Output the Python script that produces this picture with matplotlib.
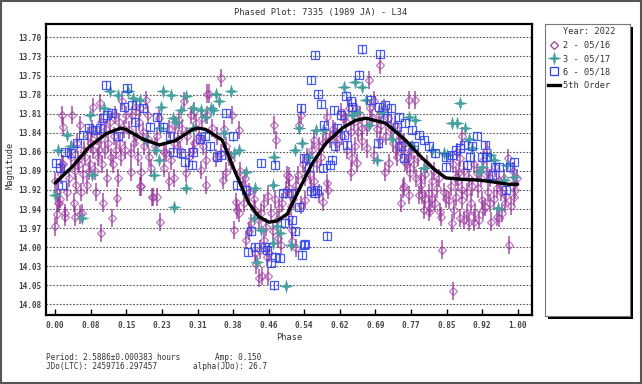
import matplotlib
matplotlib.use("Agg")
import matplotlib.pyplot as plt
import numpy as np
from matplotlib.lines import Line2D
from matplotlib.patches import Rectangle
from matplotlib.path import Path

plt.rcParams['font.family'] = ['DejaVu Sans Mono']

# session 2 - 05/16 (purple diamonds)
s2_phase = [0.000, 0.003, 0.000, 0.003, 0.006, 0.008, 0.010, 0.012, 0.014, 0.015, 0.017, 0.017, 0.021, 0.022,
            0.025, 0.030, 0.033, 0.035, 0.036, 0.040, 0.042, 0.043, 0.045, 0.048, 0.050, 0.052, 0.053, 0.053,
            0.055, 0.058, 0.060, 0.062, 0.065, 0.068, 0.070, 0.072, 0.075, 0.078, 0.080, 0.082, 0.082, 0.085,
            0.088, 0.090, 0.093, 0.095, 0.097, 0.098, 0.100, 0.100, 0.102, 0.104, 0.107, 0.110, 0.112, 0.115,
            0.118, 0.120, 0.122, 0.125, 0.128, 0.130, 0.132, 0.133, 0.135, 0.138, 0.140, 0.143, 0.145, 0.148,
            0.150, 0.152,
            0.160, 0.163, 0.163, 0.174, 0.174, 0.181, 0.183, 0.185, 0.185, 0.192, 0.196, 0.203, 0.207, 0.210,
            0.212, 0.221, 0.226, 0.235, 0.235, 0.246, 0.257, 0.257, 0.268, 0.279, 0.282, 0.293, 0.297, 0.304,
            0.315, 0.326, 0.326, 0.329, 0.170, 0.178, 0.190, 0.200, 0.215, 0.220, 0.240, 0.250, 0.265, 0.270,
            0.285, 0.290, 0.300, 0.310, 0.320, 0.200, 0.225, 0.245, 0.260, 0.275, 0.300, 0.318, 0.167, 0.183,
            0.333, 0.329, 0.340, 0.347, 0.358, 0.358, 0.362, 0.369, 0.383, 0.387, 0.390, 0.392, 0.397, 0.397,
            0.408, 0.413, 0.418, 0.423, 0.432, 0.433, 0.435, 0.441, 0.442, 0.447, 0.451, 0.451, 0.457, 0.460,
            0.462, 0.466, 0.473, 0.477, 0.482, 0.484, 0.489, 0.498, 0.502, 0.350, 0.370, 0.375, 0.400, 0.405,
            0.420, 0.430, 0.440, 0.455, 0.470, 0.480, 0.490, 0.445, 0.460, 0.475, 0.365, 0.380, 0.410,
            0.505, 0.505, 0.505, 0.513, 0.513, 0.520, 0.524, 0.527, 0.531, 0.531, 0.541, 0.541, 0.552, 0.560,
            0.570, 0.570, 0.579, 0.585, 0.588, 0.588, 0.590, 0.606, 0.617, 0.628, 0.639, 0.639, 0.642, 0.649,
            0.653, 0.664, 0.664, 0.515, 0.535, 0.545, 0.555, 0.565, 0.575, 0.580, 0.595, 0.600, 0.610, 0.620,
            0.625, 0.630, 0.635, 0.645, 0.650, 0.655, 0.660, 0.550, 0.560, 0.520, 0.510,
            0.674, 0.674, 0.678, 0.689, 0.703, 0.703, 0.714, 0.721, 0.736, 0.743, 0.748, 0.752, 0.754, 0.757,
            0.766, 0.766, 0.768, 0.777, 0.787, 0.790, 0.794, 0.797, 0.808, 0.809, 0.811, 0.822, 0.833, 0.834,
            0.837, 0.680, 0.685, 0.690, 0.695, 0.700, 0.705, 0.710, 0.715, 0.720, 0.725, 0.730, 0.735, 0.740,
            0.745, 0.750, 0.755, 0.760, 0.765, 0.770, 0.775, 0.780, 0.785, 0.790, 0.800, 0.805, 0.815, 0.820,
            0.825, 0.830, 0.840, 0.845, 0.800, 0.815,
            0.851, 0.855, 0.858, 0.860, 0.866, 0.866, 0.869, 0.873, 0.876, 0.876, 0.880, 0.880, 0.880, 0.885,
            0.891, 0.894, 0.901, 0.905, 0.908, 0.912, 0.923, 0.924, 0.930, 0.934, 0.934, 0.941, 0.943, 0.955,
            0.955, 0.959, 0.960, 0.966, 0.973, 0.980, 0.982, 0.991, 0.991, 0.995, 0.860, 0.870, 0.885, 0.890,
            0.895, 0.900, 0.905, 0.915, 0.920, 0.925, 0.935, 0.940, 0.948, 0.950, 0.965, 0.970, 0.975, 0.985,
            0.990, 0.998, 0.862, 0.917]
s2_mag = [13.905, 13.920, 13.969, 13.952, 13.935, 13.935, 13.930, 13.895, 13.810, 13.880, 13.827, 13.880, 13.955, 13.950,
          13.920, 13.900, 13.870, 13.860, 13.810, 13.935, 13.890, 13.955, 13.910, 13.850, 13.875, 13.880, 13.825, 13.952,
          13.920, 13.950, 13.895, 13.860, 13.870, 13.910, 13.840, 13.890, 13.880, 13.850, 13.830, 13.799, 13.860, 13.890,
          13.920, 13.840, 13.870, 13.860, 13.793, 13.820, 13.845, 13.978, 13.880, 13.935, 13.860, 13.830, 13.900, 13.850,
          13.820, 13.870, 13.957, 13.880, 13.840, 13.810, 13.860, 13.928, 13.900, 13.820, 13.850, 13.870, 13.790, 13.830,
          13.860, 13.810,
          13.832, 13.865, 13.891, 13.799, 13.841, 13.820, 13.912, 13.891, 13.912, 13.855, 13.789, 13.870, 13.886, 13.927,
          13.927, 13.927, 13.963, 13.886, 13.863, 13.905, 13.900, 13.851, 13.818, 13.791, 13.893, 13.810, 13.860, 13.822,
          13.889, 13.874, 13.910, 13.780, 13.850, 13.870, 13.835, 13.845, 13.855, 13.840, 13.865, 13.875, 13.845, 13.860,
          13.840, 13.870, 13.850, 13.840, 13.855, 13.810, 13.815, 13.830, 13.825, 13.830, 13.805, 13.815, 13.810, 13.800,
          13.780, 13.810, 13.829, 13.872, 13.758, 13.865, 13.903, 13.891, 13.810, 13.974, 13.934, 13.945, 13.832, 13.950,
          13.936, 13.988, 13.975, 13.964, 14.007, 13.945, 14.023, 14.042, 14.002, 14.040, 13.936, 13.988, 14.012, 14.040,
          14.007, 13.950, 13.825, 13.846, 13.986, 13.943, 13.995, 13.917, 13.896, 13.840, 13.855, 13.870, 13.890, 13.910,
          13.920, 13.930, 13.960, 13.970, 13.975, 13.960, 13.935, 13.950, 13.925, 13.930, 13.830, 13.875, 13.900,
          13.898, 13.915, 13.955, 13.974, 13.990, 14.000, 13.896, 13.825, 13.810, 13.938, 13.898, 13.931, 13.915, 13.846,
          13.855, 13.922, 13.934, 13.841, 13.813, 13.907, 13.917, 13.834, 13.806, 13.820, 13.834, 13.891, 13.872, 13.855,
          13.879, 13.848, 13.829, 13.930, 13.880, 13.870, 13.860, 13.880, 13.870, 13.850, 13.845, 13.830, 13.850, 13.840,
          13.815, 13.860, 13.800, 13.820, 13.800, 13.835, 13.810, 13.895, 13.905, 13.910, 13.940,
          13.827, 13.858, 13.761, 13.867, 13.739, 13.846, 13.891, 13.879, 13.860, 13.846, 13.936, 13.915, 13.912, 13.877,
          13.789, 13.924, 13.893, 13.789, 13.924, 13.898, 13.924, 13.945, 13.922, 13.948, 13.943, 13.936, 13.948, 13.955,
          14.002, 13.800, 13.815, 13.790, 13.830, 13.810, 13.825, 13.800, 13.840, 13.815, 13.830, 13.850, 13.825, 13.870,
          13.840, 13.860, 13.850, 13.880, 13.870, 13.860, 13.880, 13.900, 13.870, 13.910, 13.895, 13.880, 13.905, 13.890,
          13.915, 13.900, 13.920, 13.930, 13.930, 13.930,
          13.931, 13.912, 13.964, 14.061, 13.927, 13.898, 13.863, 13.891, 13.957, 13.872, 13.931, 13.917, 13.841, 13.960,
          13.950, 13.962, 13.912, 13.962, 13.950, 13.893, 13.931, 13.945, 13.941, 13.891, 13.860, 13.936, 13.962, 13.955,
          13.915, 13.903, 13.957, 13.950, 13.936, 13.872, 13.995, 13.927, 13.907, 13.917, 13.880, 13.905, 13.890, 13.920,
          13.900, 13.935, 13.880, 13.915, 13.900, 13.875, 13.920, 13.900, 13.930, 13.885, 13.920, 13.900, 13.925, 13.940,
          13.890, 13.900, 13.945, 13.960]
s2_err = 0.013

# session 3 - 05/17 (teal stars)
s3_phase = [0.000, 0.006, 0.025, 0.035, 0.057, 0.075, 0.079, 0.106, 0.118, 0.136, 0.157, 0.168, 0.183, 0.196,
            0.214, 0.217, 0.225, 0.226, 0.228, 0.233, 0.250, 0.255, 0.257, 0.261, 0.273, 0.282, 0.282, 0.297,
            0.298, 0.315, 0.323, 0.336, 0.341, 0.347, 0.354, 0.365, 0.379, 0.387, 0.397, 0.412, 0.430, 0.433,
            0.437, 0.444, 0.470, 0.470, 0.473, 0.480, 0.487, 0.498, 0.509, 0.518, 0.527, 0.534, 0.549, 0.563,
            0.578, 0.624, 0.642, 0.649, 0.653, 0.664, 0.671, 0.678, 0.696, 0.707, 0.729, 0.766, 0.772, 0.779,
            0.797, 0.815, 0.840, 0.848, 0.858, 0.869, 0.876, 0.886, 0.894, 0.901, 0.916, 0.923, 0.941, 0.948,
            0.957, 0.970, 0.977, 0.991]
s3_mag = [13.924, 13.860, 13.839, 13.855, 13.957, 13.810, 13.896, 13.801, 13.777, 13.782, 13.777, 13.786, 13.789, 13.846,
          13.896, 13.860, 13.874, 13.829, 13.799, 13.777, 13.782, 13.815, 13.941, 13.820, 13.803, 13.784, 13.915, 13.829,
          13.801, 13.803, 13.813, 13.801, 13.803, 13.780, 13.791, 13.836, 13.777, 13.865, 13.860, 13.891, 13.957, 13.915,
          14.019, 13.974, 13.910, 13.993, 13.870, 13.969, 13.979, 14.054, 13.995, 13.860, 13.829, 13.851, 13.870, 13.832,
          13.832, 13.770, 13.810, 13.763, 13.806, 13.770, 13.789, 13.825, 13.874, 13.806, 13.844, 13.813, 13.855, 13.817,
          13.886, 13.860, 13.865, 13.867, 13.822, 13.822, 13.794, 13.829, 13.844, 13.858, 13.891, 13.884, 13.867, 13.874,
          13.943, 13.903, 13.881, 13.898]
s3_err = 0.005

# session 6 - 05/18 (blue squares)
s6_phase = [0.002, 0.010, 0.014, 0.021, 0.035, 0.046, 0.060, 0.073, 0.086, 0.097, 0.104, 0.110, 0.111, 0.122,
            0.136, 0.148, 0.156, 0.165, 0.172, 0.190, 0.205, 0.219, 0.233, 0.248, 0.255, 0.273, 0.280, 0.295,
            0.298, 0.313, 0.323, 0.334, 0.349, 0.359, 0.370, 0.384, 0.392, 0.413, 0.417, 0.424, 0.433, 0.446,
            0.453, 0.457, 0.467, 0.472, 0.475, 0.475, 0.485, 0.492, 0.496, 0.510, 0.513, 0.518, 0.527, 0.532,
            0.534, 0.537, 0.541, 0.538, 0.549, 0.552, 0.554, 0.561, 0.562, 0.567, 0.568, 0.574, 0.578, 0.581,
            0.587, 0.595, 0.599, 0.603, 0.606, 0.610, 0.617, 0.624, 0.628, 0.632, 0.639, 0.642, 0.657, 0.664,
            0.682, 0.698, 0.700, 0.703, 0.714, 0.718, 0.725, 0.739, 0.743, 0.747, 0.754, 0.757, 0.772, 0.775,
            0.786, 0.797, 0.808, 0.822, 0.844, 0.844, 0.858, 0.866, 0.876, 0.883, 0.891, 0.898, 0.901, 0.912,
            0.923, 0.930, 0.934, 0.945, 0.952, 0.959, 0.975, 0.984, 0.991]
s6_mag = [13.879, 13.886, 13.910, 13.863, 13.865, 13.851, 13.839, 13.829, 13.832, 13.829, 13.815, 13.768, 13.810, 13.808,
          13.841, 13.799, 13.772, 13.796, 13.820, 13.801, 13.827, 13.813, 13.827, 13.841, 13.863, 13.865, 13.877, 13.881,
          13.863, 13.844, 13.841, 13.855, 13.870, 13.867, 13.808, 13.841, 13.910, 13.917, 14.005, 13.976, 13.998, 13.879,
          13.998, 14.002, 14.021, 14.053, 13.881, 14.012, 14.014, 13.922, 13.964, 13.922, 13.960, 13.976, 13.941, 13.801,
          14.009, 13.995, 13.994, 13.872, 13.884, 13.919, 13.761, 13.922, 13.725, 13.917, 13.781, 13.795, 13.886, 13.825,
          13.982, 13.881, 13.874, 13.803, 13.855, 13.829, 13.810, 13.839, 13.783, 13.853, 13.791, 13.799, 13.753, 13.717,
          13.789, 13.851, 13.799, 13.724, 13.796, 13.815, 13.801, 13.827, 13.813, 13.855, 13.872, 13.822, 13.832, 13.855,
          13.839, 13.846, 13.855, 13.865, 13.870, 13.884, 13.867, 13.860, 13.858, 13.853, 13.881, 13.870, 13.855, 13.840,
          13.870, 13.853, 13.870, 13.896, 13.884, 13.884, 13.917, 13.884, 13.877]
s6_err = 0.006

# 5th order fit curve
fit_phase = [0.000, 0.037, 0.073, 0.110, 0.142, 0.153, 0.190, 0.225, 0.260, 0.297, 0.310, 0.325, 0.361, 0.390,
             0.419, 0.440, 0.462, 0.480, 0.502, 0.527, 0.556, 0.585, 0.621, 0.650, 0.673, 0.714, 0.757, 0.794,
             0.820, 0.845, 0.880, 0.916, 0.950, 0.980, 1.000]
fit_mag = [13.907, 13.884, 13.856, 13.837, 13.829, 13.831, 13.845, 13.853, 13.847, 13.831, 13.829, 13.831, 13.846, 13.893,
           13.936, 13.955, 13.963, 13.961, 13.951, 13.917, 13.879, 13.851, 13.829, 13.818, 13.815, 13.822, 13.846, 13.872,
           13.888, 13.900, 13.902, 13.903, 13.906, 13.909, 13.909]

x_ticks = [0.0, 1/13, 2/13, 3/13, 4/13, 5/13, 6/13, 7/13, 8/13, 9/13, 10/13, 11/13, 12/13, 1.0]
x_labels = ['0.00', '0.08', '0.15', '0.23', '0.31', '0.38', '0.46', '0.54', '0.62', '0.69', '0.77', '0.85', '0.92', '1.00']
y_ticks = [13.70 + i * (14.08 - 13.70) / 14 for i in range(15)]
y_labels = ['13.70', '13.73', '13.75', '13.78', '13.81', '13.84', '13.86', '13.89', '13.92', '13.94',
            '13.97', '14.00', '14.03', '14.05', '14.08']

purple = '#a040a4'
purple_bar = '#8a1a8e'
teal = '#45a0a0'
blue = '#2a40f0'

# four point star marker
r = 0.2
star4 = Path([(0, 1), (r, r), (1, 0), (r, -r), (0, -1), (-r, -r), (-1, 0), (-r, r), (0, 1)],
             [Path.MOVETO] + [Path.LINETO] * 7 + [Path.CLOSEPOLY])

fig = plt.figure(figsize=(6.42, 3.84), dpi=100)
ax = fig.add_axes([46/642, 1 - 315/384, 486/642, 291/384])

ax.errorbar(s2_phase, s2_mag, yerr=s2_err, fmt='D', ms=4.2, mfc='none', mec=purple, mew=0.9,
            ecolor=purple_bar, elinewidth=1.2, alpha=0.7, capsize=0, zorder=2)
ax.errorbar(s3_phase, s3_mag, yerr=s3_err, fmt='none', ecolor=teal, elinewidth=1.0, capsize=0, zorder=3)
ax.plot(s3_phase, s3_mag, ls='none', marker=star4, ms=9, color=teal, mew=0.4, zorder=3)
ax.errorbar(s6_phase, s6_mag, yerr=s6_err, fmt='s', ms=5.5, mfc='none', mec=blue, mew=0.9,
            ecolor=blue, elinewidth=0.9, capsize=0, alpha=0.85, zorder=4)
ax.plot(fit_phase, fit_mag, color='black', lw=2.4, solid_joinstyle='round', solid_capstyle='round', zorder=5)

ax.set_xlim(-0.02, 1.031)
ax.set_ylim(14.095, 13.681)
ax.set_xticks(x_ticks)
ax.set_xticklabels(x_labels)
ax.set_yticks(y_ticks)
ax.set_yticklabels(y_labels)
ax.tick_params(axis='x', direction='in', length=4, width=1, top=False, pad=4)
ax.tick_params(axis='y', length=0, pad=3)
for lab in ax.get_xticklabels() + ax.get_yticklabels():
    lab.set_fontsize(5.6)
    lab.set_fontweight('bold')
    lab.set_color('#444444')
ax.yaxis.grid(True, linestyle=(0, (1.5, 1.5)), color='#555555', lw=0.8)
ax.set_axisbelow(True)
for sp in ax.spines.values():
    sp.set_linewidth(1.6)

fig.text(289/642, 1 - 337/384, 'Phase', ha='center', va='center', fontsize=6.2, color='#333333')
fig.text(10/642, 1 - 165/384, 'Magnitude', ha='center', va='center', rotation=90, fontsize=6.2, color='#333333')
fig.text(0.5, 1 - 12/384, 'Phased Plot: 7335 (1989 JA) - L34', ha='center', va='center', fontsize=6.2, color='#333333')

fig.text(46/642, 1 - 357/384, 'Period: 2.5886\u00b10.000383 hours', ha='left', va='center', fontsize=5.6, color='#333333')
fig.text(215/642, 1 - 357/384, 'Amp: 0.150', ha='left', va='center', fontsize=5.6, color='#333333')
fig.text(46/642, 1 - 366.5/384, 'JDo(LTC): 2459716.297457', ha='left', va='center', fontsize=5.6, color='#333333')
fig.text(193/642, 1 - 366.5/384, 'alpha(JDo): 26.7', ha='left', va='center', fontsize=5.6, color='#333333')

# legend box with shadow
lx0, ly0, lw_, lh_ = 545/642, 1 - 316/384, 85/642, 292/384
shadow = Rectangle((lx0 + 3/642, ly0 - 3/384), lw_, lh_, transform=fig.transFigure,
                   facecolor='black', edgecolor='none', zorder=-5)
fig.patches.append(shadow)
lax = fig.add_axes([lx0, ly0, lw_, lh_])
lax.set_facecolor('white')
lax.set_xticks([])
lax.set_yticks([])
for sp in lax.spines.values():
    sp.set_color('#777777')
    sp.set_linewidth(0.8)

handles = [Line2D([], [], ls='none'),
           Line2D([], [], ls='none', marker='D', ms=4.2, mfc='none', mec=purple, mew=0.9),
           Line2D([], [], ls='none', marker=star4, ms=9, color=teal, mew=0.4),
           Line2D([], [], ls='none', marker='s', ms=5.5, mfc='none', mec=blue, mew=0.9),
           Line2D([], [], color='black', lw=2.4)]
labels = ['Year: 2022', '2 - 05/16', '3 - 05/17', '6 - 05/18', '5th Order']
leg = lax.legend(handles, labels, loc='upper left', frameon=False, fontsize=6.2,
                 handlelength=1.3, handletextpad=0.4, labelspacing=0.5,
                 borderaxespad=0.1, borderpad=0.3)
for t in leg.get_texts():
    t.set_color('#333333')

# outer border
fig.patches.append(Rectangle((0.001, 0.002), 0.997, 0.996, transform=fig.transFigure,
                             fill=False, edgecolor='#555555', lw=1.5))

fig.savefig('out.png', dpi=100)
